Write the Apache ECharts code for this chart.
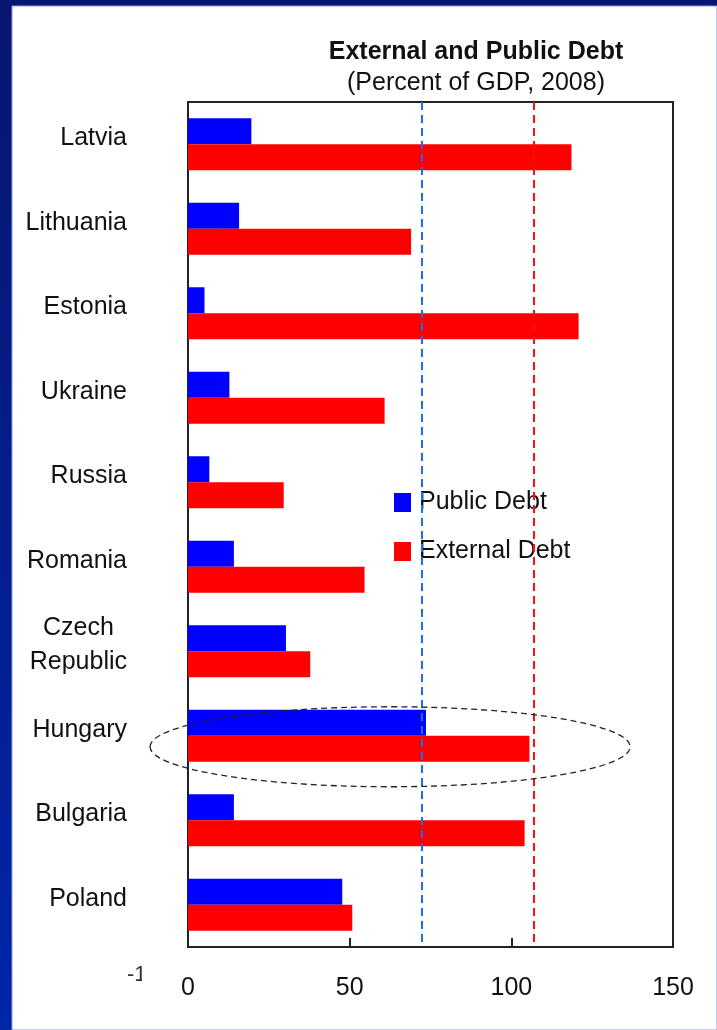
<!DOCTYPE html>
<html>
<head>
<meta charset="utf-8">
<title>External and Public Debt</title>
<script src="https://cdn.jsdelivr.net/npm/echarts@6/dist/echarts.min.js"></script>
<style>
  html, body { margin: 0; padding: 0; background: #fff; }
  #chart { width: 717px; height: 1030px; }
</style>
</head>
<body>
<div id="chart"></div>
<script>
// Debt ratios by country, percent of GDP (2008)
const categories = ['Latvia', 'Lithuania', 'Estonia', 'Ukraine', 'Russia', 'Romania',
  'Czech Republic', 'Hungary', 'Bulgaria', 'Poland'];
const publicDebt = [19.6, 15.8, 5.1, 12.8, 6.6, 14.2, 30.3, 73.6, 14.2, 47.7];
const externalDebt = [118.6, 69.0, 120.8, 60.8, 29.6, 54.6, 37.8, 105.6, 104.1, 50.8];
// Dashed reference levels
const publicRefLevel = [72.4];
const externalRefLevel = [107.0];
// Value axis ticks
const xTicks = [0, 50, 100, 150];
const highlighted = 'Hungary';

const FONT = 'Liberation Sans, Arial, Helvetica, sans-serif';
const TEXT = '#111';
const AXIS = '#222';

const chart = echarts.init(document.getElementById('chart'), null, { renderer: 'canvas' });

chart.setOption({
  animation: false,
  backgroundColor: {
    type: 'linear', x: 0, y: 0, x2: 0, y2: 1,
    colorStops: [{ offset: 0, color: '#071670' }, { offset: 1, color: '#0026a8' }]
  },
  textStyle: { fontFamily: FONT },
  title: {
    text: 'External and Public Debt',
    subtext: '(Percent of GDP, 2008)',
    left: 471, top: 35, textAlign: 'center',
    itemGap: 6,
    textStyle: { fontFamily: FONT, fontSize: 25, fontWeight: 'bold', color: TEXT },
    subtextStyle: { fontFamily: FONT, fontSize: 25, color: TEXT }
  },
  legend: {
    data: ['Public Debt', 'External Debt'],
    orient: 'vertical',
    left: 394, top: 488,
    padding: 0,
    itemWidth: 17, itemHeight: 19,
    itemGap: 20,
    icon: 'rect',
    selectedMode: false,
    textStyle: { fontFamily: FONT, fontSize: 25, color: TEXT, lineHeight: 29, padding: [0, 0, 0, 3] }
  },
  grid: {
    left: 188, right: 44, top: 102, bottom: 83,
    show: true, borderColor: AXIS, borderWidth: 2, backgroundColor: '#fff'
  },
  xAxis: {
    type: 'value',
    min: xTicks[0], max: xTicks[xTicks.length - 1], interval: xTicks[1] - xTicks[0],
    axisLine: { show: true, lineStyle: { color: AXIS, width: 2 } },
    axisTick: { show: true, inside: true, length: 9, lineStyle: { color: AXIS, width: 2 } },
    splitLine: { show: false },
    axisLabel: { fontFamily: FONT, fontSize: 25, color: TEXT, margin: 29 }
  },
  yAxis: {
    type: 'category',
    data: categories,
    inverse: true,
    axisLine: { show: true, lineStyle: { color: AXIS, width: 2 } },
    axisTick: { show: false },
    splitLine: { show: false },
    axisLabel: {
      fontFamily: FONT, fontSize: 25, color: TEXT, margin: 61,
      padding: [0, 0, 12, 0],
      formatter: function (v) {
        const parts = v.split(' ');
        if (v === 'Czech Republic') return parts.map(p => '{c|' + p + '}').join('\n');
        return v;
      },
      rich: { c: { fontFamily: FONT, fontSize: 25, color: TEXT, lineHeight: 34, align: 'center' } }
    }
  },
  series: [
    {
      name: 'Public Debt', type: 'bar', data: publicDebt,
      barWidth: 26, barGap: '0%',
      itemStyle: { color: '#0000ff' },
      markLine: {
        silent: true, symbol: 'none', label: { show: false },
        lineStyle: { color: '#1a6cff', width: 2, type: [8, 5] },
        data: publicRefLevel.map(v => ({ xAxis: v }))
      }
    },
    {
      name: 'External Debt', type: 'bar', data: externalDebt,
      barWidth: 26, barGap: '0%',
      itemStyle: { color: '#ff0000' },
      markLine: {
        silent: true, symbol: 'none', label: { show: false },
        lineStyle: { color: '#ff1010', width: 2, type: [8, 5] },
        data: externalRefLevel.map(v => ({ xAxis: v }))
      }
    }
  ]
});

// White slide panel, the dashed ring around the highlighted country, and a stray cut-off label
const rowY = chart.convertToPixel({ yAxisIndex: 0 }, highlighted);
const ringCx = chart.convertToPixel({ xAxisIndex: 0 }, 62.5);
chart.setOption({
  graphic: [
    { type: 'rect', z: -10, shape: { x: 12, y: 6, width: 705, height: 1024 },
      style: { fill: '#fff', stroke: '#8e9cd8', lineWidth: 1 } },
    { type: 'ellipse', z: 50, silent: true,
      shape: { cx: ringCx, cy: rowY + 11, rx: 240, ry: 40 },
      style: { fill: 'none', stroke: '#222', lineWidth: 1.3, lineDash: [6, 4] } },
    { type: 'text', z: 5, left: 127, top: 964,
      style: { text: '-1', fontFamily: FONT, fontSize: 22, fill: '#333' } },
    { type: 'rect', z: 6, shape: { x: 142, y: 958, width: 18, height: 44 }, style: { fill: '#fff' } }
  ]
});
</script>
</body>
</html>
